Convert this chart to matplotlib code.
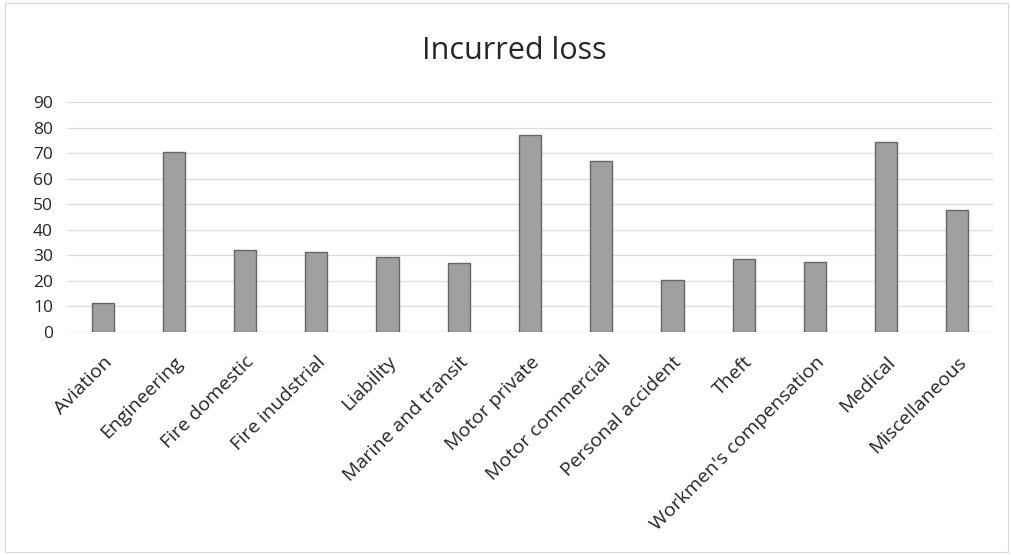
import matplotlib
matplotlib.use("Agg")
import matplotlib.pyplot as plt
from matplotlib.patches import Rectangle

categories = [
    "Aviation", "Engineering", "Fire domestic", "Fire inudstrial", "Liability",
    "Marine and transit", "Motor private", "Motor commercial", "Personal accident",
    "Theft", "Workmen's compensation", "Medical", "Miscellaneous",
]
incurred_loss = [11.3, 70.3, 32.0, 31.4, 29.5, 27.1, 77.0, 67.0, 20.5, 28.4, 27.3, 74.3, 47.9]
y_ticks = [0, 10, 20, 30, 40, 50, 60, 70, 80, 90]

plt.rcParams["font.family"] = ["Open Sans", "DejaVu Sans"]

fig = plt.figure(figsize=(10.11, 5.55), dpi=100)
ax = fig.add_axes([67 / 1011, 1 - 332 / 555, (993 - 67) / 1011, (332 - 102) / 555])

x = range(len(categories))
ax.bar(x, incurred_loss, width=0.31, color="#a0a0a0", edgecolor="#666666",
       linewidth=1.0, zorder=3)

ax.set_xlim(-0.5, len(categories) - 0.5)
ax.set_ylim(0, 90)
ax.set_yticks(y_ticks)
ax.set_yticklabels([str(t) for t in y_ticks], fontsize=12.5, color="#262626")
ax.set_xticks(list(x))
ax.set_xticklabels(categories, rotation=45, ha="right", rotation_mode="anchor",
                   fontsize=14, color="#262626")
ax.tick_params(axis="x", length=0, pad=15)
ax.tick_params(axis="y", length=0, pad=10)

ax.grid(axis="y", color="#dddddd", linewidth=0.9, zorder=0)
ax.axhline(0, color="#cccccc", linewidth=0.9, zorder=1)
for side in ax.spines.values():
    side.set_visible(False)

fig.text(514 / 1011, 1 - 51 / 555, "Incurred loss", ha="center", va="center",
         fontsize=22, color="#262626")

# outer chart frame
fig.patches.append(Rectangle((5 / 1011, 3 / 555), 1003 / 1011, 549 / 555,
                             transform=fig.transFigure, fill=False,
                             edgecolor="#d9d9d9", linewidth=0.8))

fig.savefig("out.png", dpi=100, facecolor="white")
